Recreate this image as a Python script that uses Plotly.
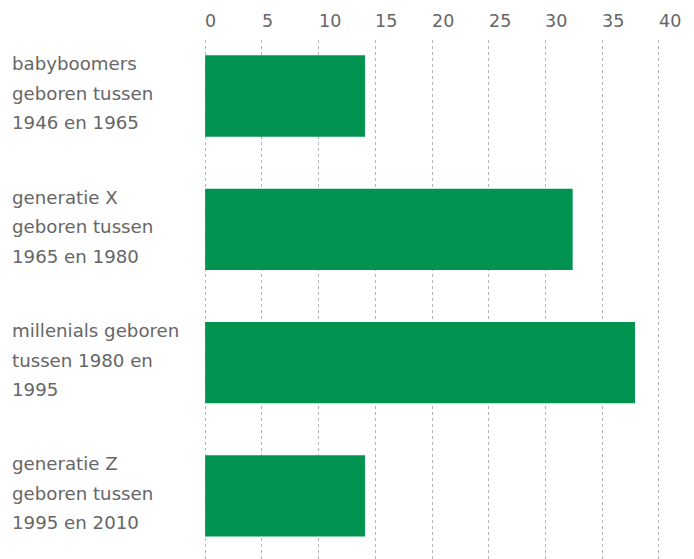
import plotly.graph_objects as go

categories = [
    ["babyboomers", "geboren tussen", "1946 en 1965"],
    ["generatie X", "geboren tussen", "1965 en 1980"],
    ["millenials geboren", "tussen 1980 en", "1995"],
    ["generatie Z", "geboren tussen", "1995 en 2010"],
]
values = [14.1, 32.4, 37.9, 14.1]
xticks = [0, 5, 10, 15, 20, 25, 30, 35, 40]

positions = list(range(len(values)))
font_family = "DejaVu Sans, sans-serif"
gray = "#666666"

fig = go.Figure()
fig.add_trace(go.Bar(
    x=values, y=positions, orientation="h",
    marker=dict(color="#009450", line=dict(width=0)),
    width=0.61, hoverinfo="skip",
))

annotations = []
for i, lines in enumerate(categories):
    for j, line in enumerate(lines):
        annotations.append(dict(
            x=0, xref="paper", xshift=-194, xanchor="left",
            y=i, yref="y", yshift=(1 - j) * 29.5 + 2.5, yanchor="middle",
            text=line, showarrow=False, align="left",
            font=dict(family=font_family, size=18.2, color=gray),
        ))

# top axis tick labels, left-aligned on their gridlines
for t in xticks:
    annotations.append(dict(
        x=t, xref="x", xshift=-2, xanchor="left",
        y=1, yref="paper", yshift=19, yanchor="middle",
        text=str(t), showarrow=False,
        font=dict(family=font_family, size=17.5, color=gray),
    ))

fig.update_layout(
    width=694, height=559,
    margin=dict(l=204, r=34, t=40, b=0),
    plot_bgcolor="white", paper_bgcolor="white",
    showlegend=False,
    annotations=annotations,
    xaxis=dict(
        side="top", range=[-0.1, 40.1], tickvals=xticks, showticklabels=False,
        showgrid=True, gridcolor="#b5b5b5", griddash="dot", gridwidth=1,
        zeroline=False, showline=False, ticks="",
    ),
    yaxis=dict(
        range=[3.473, -0.42], showticklabels=False, showgrid=False,
        zeroline=False, showline=False, ticks="",
    ),
    bargap=0.39,
)

fig.write_html("out.html")
